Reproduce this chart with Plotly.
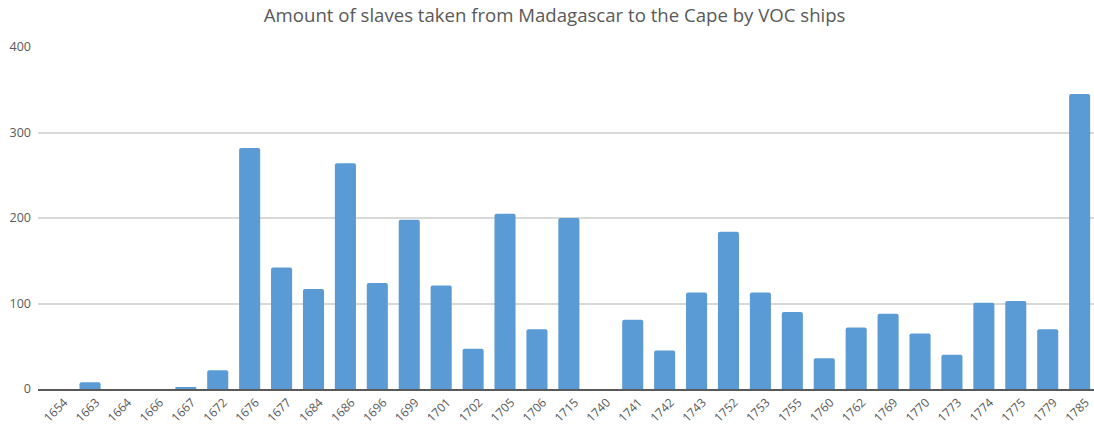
import plotly.graph_objects as go

years = ["1654", "1663", "1664", "1666", "1667", "1672", "1676", "1677", "1684", "1686",
         "1696", "1699", "1701", "1702", "1705", "1706", "1715", "1740", "1741", "1742",
         "1743", "1752", "1753", "1755", "1760", "1762", "1769", "1770", "1773", "1774",
         "1775", "1779", "1785"]
slaves = [0, 8, 0, 0, 2, 22, 282, 142, 117, 264,
          124, 198, 121, 47, 205, 70, 200, 0, 81, 45,
          113, 184, 113, 90, 36, 72, 88, 65, 40, 101,
          103, 70, 345]
y_ticks = [0, 100, 200, 300, 400]

title_text = "Amount of slaves taken from Madagascar to the Cape by VOC ships"

fig = go.Figure()
fig.add_trace(go.Bar(
    x=list(range(len(years))),
    y=slaves,
    marker=dict(color="#5B9BD5", line=dict(width=0)),
    width=0.66,
    hoverinfo="x+y",
))

fig.update_layout(
    width=1094,
    height=425,
    margin=dict(l=38, r=0, t=47, b=36),
    paper_bgcolor="white",
    plot_bgcolor="white",
    showlegend=False,
    barcornerradius=2,
    font=dict(family="Open Sans, sans-serif", color="#595959"),
    title=dict(
        text=title_text,
        x=0.507,
        xanchor="center",
        y=0.964,
        yanchor="middle",
        font=dict(size=18.6, color="#595959", family="Open Sans, sans-serif"),
    ),
)

fig.update_xaxes(
    tickmode="array",
    tickvals=list(range(len(years))),
    ticktext=years,
    tickangle=-45,
    tickfont=dict(size=12, color="#595959"),
    ticklabelshift=6,
    ticklabelstandoff=0,
    range=[-0.63, 32.45],
    showgrid=False,
    showline=True,
    linecolor="#595959",
    linewidth=1.5,
    ticks="",
    automargin=False,
    zeroline=False,
)

fig.update_yaxes(
    range=[0, 400],
    tickmode="array",
    tickvals=y_ticks,
    ticktext=[str(v) for v in y_ticks],
    tickfont=dict(size=12.5, color="#595959"),
    showgrid=True,
    gridcolor="#D9D9D9",
    gridwidth=1.5,
    zeroline=False,
    showline=False,
    ticks="",
    ticklabelstandoff=6,
    automargin=False,
)

fig.write_html(
    "out.html",
    config={"displayModeBar": False},
    post_script="document.body.style.margin='0';document.body.style.overflow='hidden';",
)
